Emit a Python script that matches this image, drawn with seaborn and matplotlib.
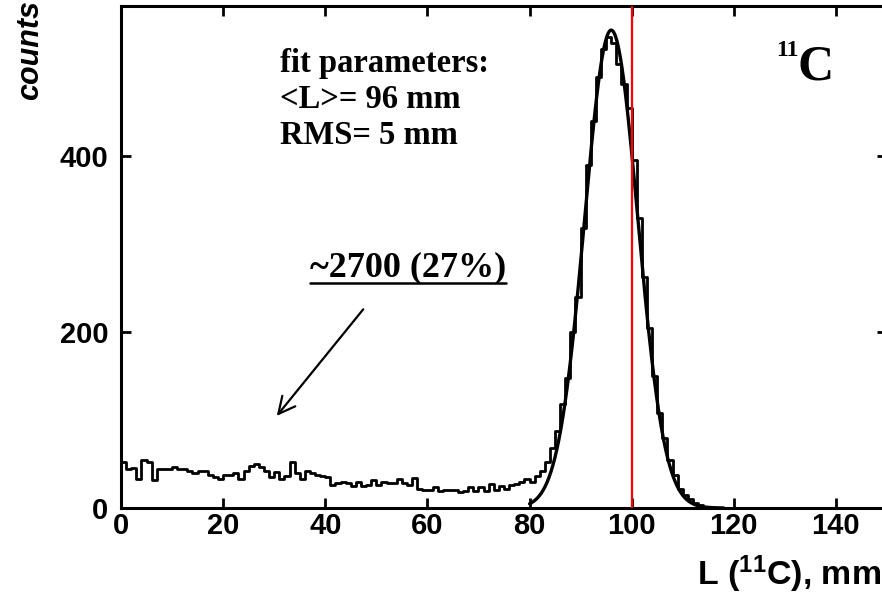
import numpy as np
import pandas as pd
import matplotlib
matplotlib.use("Agg")
import matplotlib.pyplot as plt
import seaborn as sns

# ---------------- data ----------------
bin_left = list(range(0, 120))          # 1 mm bins, left edges
background_counts = [
    52, 44, 45, 33, 55, 52, 32, 44, 44, 44,
    47, 44, 44, 42, 40, 42, 42, 38, 35, 33,
    37, 38, 40, 33, 42, 48, 50, 47, 42, 35,
    41, 33, 36, 52, 40, 33, 42, 40, 38, 36,
    35, 26, 28, 30, 28, 25, 30, 25, 26, 32,
    26, 30, 28, 28, 33, 28, 26, 34, 22, 20,
    20, 24, 19, 21, 21, 20, 18, 19, 24, 19,
    24, 19, 27, 20, 25, 22, 26, 27, 30, 33,
]
peak_counts = [
    30, 36, 42, 52, 68, 88, 118, 148, 200, 240,
    318, 390, 440, 490, 522, 535, 528, 505, 482, 455,
    395, 330, 262, 205, 150, 108, 80, 55, 38, 22,
    15, 10, 6, 3, 1, 0, 0, 0, 0, 0,
]
counts = background_counts + peak_counts

FIT_AMP = 543.0       # fitted Gaussian amplitude (counts)
FIT_MEAN = 96.0       # <L> = 96 mm
FIT_SIGMA = 5.2       # RMS ~ 5 mm
FIT_FROM, FIT_TO = 80.0, 118.0
MARKER_X = 100        # red vertical line

x_ticks = [0, 20, 40, 60, 80, 100, 120, 140]
y_ticks = [0, 200, 400]
X_LIM = (0, 150)
Y_LIM = (0, 570)

# ---------------- figure ----------------
W, H = 882, 599
sns.set_theme(style="ticks")
plt.rcParams["font.family"] = ["Liberation Sans", "DejaVu Sans"]
plt.rcParams["mathtext.fontset"] = "custom"
plt.rcParams["mathtext.rm"] = "Liberation Sans:bold"
plt.rcParams["mathtext.it"] = "Liberation Sans:bold"
plt.rcParams["mathtext.bf"] = "Liberation Sans:bold"

fig = plt.figure(figsize=(W / 100, H / 100), dpi=100)
fig.patch.set_facecolor("white")

def fx(px):
    return px / W

def fy(py):
    return 1 - py / H

ax_left, ax_right, ax_top, ax_bottom = 121, 887, 6.4, 508
ax = fig.add_axes([fx(ax_left), fy(ax_bottom), (ax_right - ax_left) / W,
                   (ax_bottom - ax_top) / H])
ax.set_facecolor("white")

df = pd.DataFrame({"L": np.array(bin_left, dtype=float) + 0.5,
                   "counts": np.array(counts, dtype=float)})
sns.histplot(data=df, x="L", weights="counts", binwidth=1, binrange=(0, 120),
             element="step", fill=False, color="black", linewidth=2.0, ax=ax)

fit_x = np.linspace(FIT_FROM, FIT_TO, 400)
fit_y = FIT_AMP * np.exp(-0.5 * ((fit_x - FIT_MEAN) / FIT_SIGMA) ** 2)
sns.lineplot(x=fit_x, y=fit_y, color="black", linewidth=2.4, ax=ax)

ax.axvline(MARKER_X, color="red", linewidth=1.6, zorder=5)

ax.set_xlim(*X_LIM)
ax.set_ylim(*Y_LIM)
ax.set_xticks(x_ticks)
ax.set_yticks(y_ticks)
ax.set_xticklabels([str(v) for v in x_ticks])
ax.set_yticklabels([str(v) for v in y_ticks])
ax.tick_params(axis="both", which="both", direction="in", length=7, width=2,
               top=True, right=True, color="black")
ax.tick_params(axis="x", pad=3, labelsize=21)
ax.tick_params(axis="y", pad=9, labelsize=21)
for lab in ax.get_xticklabels() + ax.get_yticklabels():
    lab.set_fontweight("bold")
    lab.set_color("black")
ax.set_xlabel("")
ax.set_ylabel("")
for s in ax.spines.values():
    s.set_linewidth(2.2)
    s.set_color("black")
    s.set_visible(True)

# ---------------- texts ----------------
fig.text(fx(30), fy(50), "counts", rotation=90, ha="center", va="center",
         fontsize=22, fontweight="bold", fontstyle="italic", color="black")
fig.text(fx(881), fy(585), r"L ($^{11}$C), mm", ha="right", va="baseline",
         fontsize=24.5, fontweight="bold", color="black")

serif = ["Liberation Serif", "DejaVu Serif"]
fig.text(fx(280), fy(48), "fit parameters:\n<L>= 96 mm\nRMS= 5 mm",
         ha="left", va="top", fontsize=23.5, fontweight="bold",
         family=serif, linespacing=1.2, color="black")

t = fig.text(fx(408), fy(276), "~2700 (27%)", ha="center", va="baseline",
             fontsize=26, fontweight="bold", family=serif, color="black")
fig.canvas.draw()
bb = t.get_window_extent()
fig.add_artist(plt.Line2D([bb.x0 / W, bb.x1 / W], [fy(283), fy(283)],
                          transform=fig.transFigure, color="black", lw=1.8))

ax.annotate("", xy=((275 - ax_left) / 5.107, (508 - 418) / 0.8807),
            xytext=((365 - ax_left) / 5.107, (508 - 307) / 0.8807),
            arrowprops=dict(arrowstyle="->", color="black", lw=1.6,
                            mutation_scale=30))

fig.text(fx(776), fy(56), "11", ha="left", va="baseline", fontsize=17,
         fontweight="bold", family=serif, color="black")
fig.text(fx(797), fy(79), "C", ha="left", va="baseline", fontsize=36,
         fontweight="bold", family=serif, color="black")

fig.savefig("out.png", dpi=100, facecolor="white")
